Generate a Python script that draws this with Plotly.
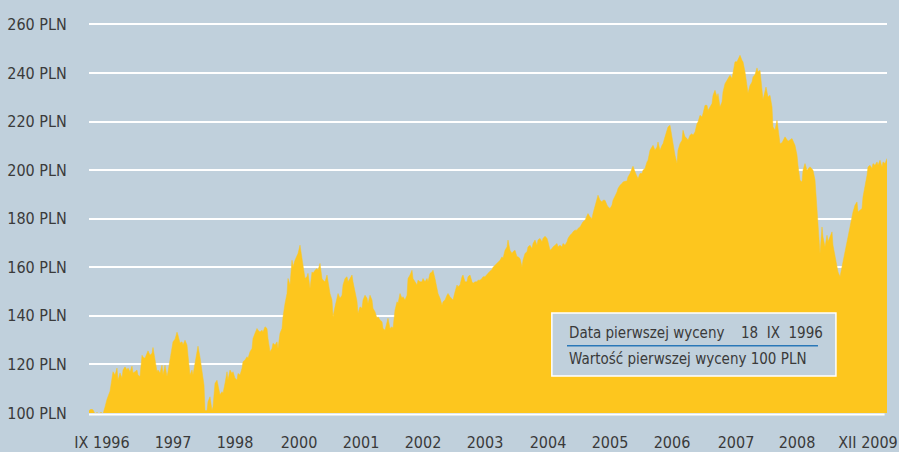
import plotly.graph_objects as go

# relative time index (sampling position along the period IX 1996 - XII 2009)
t = [89, 91, 93, 95, 97, 99, 101, 103, 105, 107, 110, 112, 113, 115, 117, 118, 120, 122, 123, 125,
     127, 128, 130, 132, 133, 135, 137, 138, 140, 142, 143, 145, 147, 148, 150, 152, 153, 155, 157, 158,
     160, 162, 163, 165, 167, 168, 170, 172, 173, 175, 177, 178, 180, 182, 183, 185, 187, 188, 190, 192,
     193, 195, 197, 198, 200, 202, 203, 204, 205, 207, 208, 210, 212, 213, 215, 217, 218, 220, 222, 223,
     225, 227, 228, 230, 232, 233, 235, 237, 238, 240, 242, 243, 245, 247, 248, 250, 252, 253, 255, 257,
     258, 260, 262, 263, 265, 267, 268, 270, 272, 273, 275, 277, 278, 280, 282, 283, 285, 287, 288, 290,
     292, 293, 295, 297, 298, 300, 302, 303, 305, 307, 308, 310, 312, 313, 315, 317, 318, 320, 322, 323,
     325, 327, 328, 330, 332, 333, 335, 337, 338, 340, 342, 343, 345, 347, 348, 350, 352, 353, 355, 357,
     358, 360, 362, 363, 365, 367, 368, 370, 372, 373, 375, 377, 378, 380, 382, 383, 385, 387, 388, 390,
     392, 393, 395, 397, 398, 400, 402, 403, 405, 407, 408, 410, 412, 413, 415, 417, 418, 420, 422, 423,
     425, 427, 428, 430, 432, 433, 435, 437, 438, 440, 442, 443, 445, 447, 448, 450, 452, 453, 455, 457,
     458, 460, 462, 463, 465, 467, 468, 470, 472, 473, 475, 477, 478, 480, 482, 483, 485, 487, 488, 490,
     492, 493, 497, 500, 502, 503, 505, 507, 508, 510, 512, 513, 515, 517, 518, 520, 522, 523, 525, 527,
     528, 530, 532, 533, 535, 537, 538, 540, 542, 543, 545, 547, 548, 550, 552, 553, 555, 557, 558, 560,
     562, 563, 565, 567, 568, 570, 572, 573, 575, 577, 578, 580, 582, 583, 585, 587, 588, 590, 592, 593,
     595, 597, 598, 600, 602, 603, 605, 607, 608, 610, 612, 613, 615, 617, 618, 620, 622, 623, 625, 627,
     628, 630, 632, 633, 635, 637, 638, 640, 642, 643, 645, 647, 648, 650, 652, 653, 655, 657, 658, 660,
     662, 663, 665, 667, 668, 670, 672, 673, 675, 677, 678, 680, 682, 683, 685, 687, 688, 690, 692, 693,
     695, 697, 698, 700, 702, 703, 705, 707, 708, 710, 712, 713, 715, 717, 718, 720, 722, 723, 725, 727,
     728, 730, 732, 733, 735, 737, 738, 740, 742, 743, 745, 747, 748, 750, 752, 753, 755, 757, 758, 760,
     762, 763, 766, 768, 770, 772, 773, 775, 777, 778, 780, 782, 785, 788, 792, 795, 797, 798, 800, 802,
     803, 805, 807, 810, 813, 815, 817, 818, 820, 822, 823, 825, 827, 828, 830, 832, 833, 835, 837, 838,
     840, 842, 843, 845, 847, 848, 850, 852, 853, 855, 857, 858, 860, 862, 863, 865, 867, 868, 870, 872,
     873, 875, 877, 878, 880, 882, 883, 885, 887]

wartosc = [101, 101.5, 101.3, 99.6, 100.2, 99.6, 100.3, 99.6, 102.5, 105.7, 109, 113.5, 117, 115.6, 118.5, 113.5, 116.5, 114.4, 117.7, 119,
           117.7, 118.5, 117, 119.3, 116.5, 117, 117.7, 115.6, 115, 123.8, 123, 122.5, 124.6, 125.6, 123.8, 124.6, 127, 121, 117, 117.7,
           116.5, 119.7, 115.6, 119.7, 115, 117, 122.5, 127.3, 129.3, 130.4, 133.3, 132, 128.8, 129.3, 128, 130, 128, 123.8, 115.6, 117.7,
           115.6, 120.5, 124.6, 127.5, 123, 117, 112.9, 111.5, 101, 101, 104.6, 106.7, 101, 102.6, 112.3, 113.5, 111.5, 107.5, 108.8, 108.1,
           112.2, 117, 113.6, 117.7, 116.3, 117, 114.3, 113.6, 116.3, 115.6, 118.4, 121.1, 121.8, 123.2, 122.5, 125.2, 126.6, 130.7, 132.8, 134.8,
           134.1, 133.4, 134.1, 133.4, 135.5, 134.8, 130.7, 125.2, 126.6, 128.7, 128, 129.3, 126.6, 132.8, 134.8, 139.6, 145.1, 149.2, 155.4, 152.7,
           162.9, 160.2, 162.9, 165, 165.7, 169.1, 164.3, 160.2, 155.4, 156.1, 157.5, 151.3, 158.1, 157.5, 158.8, 159.5, 158.8, 161.6, 155.4, 154.7,
           154, 156.8, 154, 149.2, 146.5, 139.6, 143.7, 147.2, 149.2, 147.2, 148.5, 152.7, 155.4, 156.1, 154, 155.4, 156.8, 154, 150.5, 146,
           141, 143.7, 143.1, 146.5, 148.5, 147.2, 145.1, 148.5, 146.5, 143.1, 141.7, 139, 139.6, 138.3, 137.6, 134.8, 134.1, 136.9, 139, 134.8,
           135.5, 134.8, 142.4, 145.8, 145.1, 149.2, 147.2, 147.9, 146.5, 148.5, 155.4, 156.8, 158.8, 155.4, 154, 152.7, 154.7, 154, 154, 155.4,
           154, 155.4, 154, 157.5, 158.1, 158.8, 155.4, 151.3, 149.2, 147.2, 144.4, 145.8, 146.5, 148.5, 149.2, 147.9, 147.2, 146.5, 149.9, 152.7,
           152, 152.7, 156.1, 156.8, 154, 154, 156.1, 156.8, 154, 153.4, 154, 154, 154.7, 154.7, 155.4, 156.1, 156.1, 156.8, 157.5, 158.4,
           159.1, 160, 161.6, 162.9, 164.3, 163.6, 167, 168.4, 171.2, 167, 165.7, 166.4, 167, 164.3, 164.3, 163.6, 160.2, 162.9, 165.7, 166.4,
           168.4, 169.1, 167.7, 169.8, 171.2, 169.1, 171.2, 171.9, 170.5, 171.9, 172.8, 171.9, 170.5, 167, 167.7, 168.4, 169.1, 169.8, 168.4, 169.1,
           168.4, 169.8, 169.1, 170.5, 171.9, 173.2, 173.9, 174.6, 175.3, 175.3, 176, 176.6, 178, 178.7, 179.4, 181.4, 182.1, 180.7, 180.1, 182.1,
           184.9, 188.3, 189.7, 187.6, 186.9, 187.6, 187.6, 185.6, 184.9, 184.2, 185.6, 187.6, 189, 191, 192.4, 193.8, 194.5, 195.1, 195.4, 195.5,
           197.2, 198.6, 200.7, 201.6, 199.3, 197.2, 196.5, 198.6, 198.6, 200, 200.7, 203.4, 204.1, 208.2, 209.5, 210.2, 208.2, 209.5, 211.6, 208.2,
           210.2, 210.9, 213.7, 216.4, 217.8, 218.5, 213.7, 209.5, 206.1, 202.7, 208.2, 210.9, 212.3, 216.4, 213.7, 213, 212.3, 214.4, 215, 214.4,
           215.7, 219.2, 219.8, 222.6, 221.9, 223.3, 226.7, 226.7, 224.6, 226, 227.4, 230.8, 232.9, 230.1, 231.5, 226, 228.1, 232.2, 235.6, 237,
           237.7, 239.1, 237.7, 240.5, 244.6, 244.6, 245.5, 247.3, 245.2, 244.6, 240.5, 233, 231.8, 234.9, 236.3, 238.4, 239.4, 242.1, 240.5, 241.1,
           232, 229, 234.2, 230.1, 230.8, 226, 217.8, 216.4, 220.5, 216.5, 210.9, 211.3, 213.7, 211.9, 213, 210.2, 206.2, 202, 195.8, 195.1,
           200, 202.7, 200, 201.4, 200, 196, 184.9, 178, 165.7, 176.6, 172.5, 168.4, 173.2, 170.5, 172.5, 174.6, 169.1, 164.3, 160.9, 158.1,
           156.1, 160.2, 162.9, 167, 171.2, 173.9, 176.6, 180.7, 182.8, 185.6, 186.9, 182.8, 183.5, 184.2, 189, 193.1, 197.9, 201.3, 202, 200.7,
           202.7, 202, 203.4, 202, 204.1, 201.3, 203.4, 202.7, 204.8]

y_ticks = [100, 120, 140, 160, 180, 200, 220, 240, 260]
y_labels = [f"{v} PLN" for v in y_ticks]
x_tick_pos = [102, 173, 235, 299, 361, 423, 485, 548, 610, 672, 736, 797, 868]
x_labels = ["IX 1996", "1997", "1998", "2000", "2001", "2002", "2003", "2004",
            "2005", "2006", "2007", "2008", "XII 2009"]

info_row1_left = "Data pierwszej wyceny"
info_row1_right = "18\u00a0\u00a0IX\u00a0\u00a01996"
info_row2 = "Wartość pierwszej wyceny 100 PLN"

BG = "#c0d0dc"
YELLOW = "#fdc61e"
TXT = "#3a3a3a"
FONT = "DejaVu Sans Condensed, Liberation Sans Narrow, Liberation Sans, sans-serif"

fig = go.Figure()
fig.add_trace(go.Scatter(
    x=t, y=wartosc, mode="lines", fill="tozeroy",
    line=dict(color=YELLOW, width=0.5), fillcolor=YELLOW,
    hoverinfo="skip", showlegend=False,
))

fig.update_layout(
    width=899, height=452,
    margin=dict(l=89, r=12, t=22, b=39, autoexpand=False),
    paper_bgcolor=BG, plot_bgcolor=BG,
    font=dict(family=FONT, size=16, color=TXT),
    showlegend=False,
    xaxis=dict(
        range=[min(t), max(t)], showgrid=False, zeroline=False, showline=False,
        automargin=False, ticklabeloverflow="allow",
        tickmode="array", tickvals=x_tick_pos, ticktext=x_labels,
        ticks="outside", ticklen=15, tickcolor="rgba(0,0,0,0)",
        tickfont=dict(family=FONT, size=16, color=TXT),
    ),
    yaxis=dict(
        range=[100, 261], showgrid=True, gridcolor="white", gridwidth=2,
        zeroline=False, showline=False,
        automargin=False, ticklabeloverflow="allow",
        tickmode="array", tickvals=y_ticks, ticktext=y_labels,
        ticks="outside", ticklen=18, tickcolor="rgba(0,0,0,0)",
        tickfont=dict(family=FONT, size=16, color=TXT),
    ),
)

# white baseline at 100 PLN
fig.add_shape(type="line", xref="paper", yref="paper", x0=0, x1=0.997, y0=-0.004, y1=-0.004,
              line=dict(color="white", width=2), layer="above")

# info box
fig.add_shape(type="rect", xref="paper", yref="paper", x0=0.580, x1=0.936, y0=0.0945, y1=0.2555,
              fillcolor=BG, line=dict(color="white", width=1.5), layer="above")
fig.add_shape(type="line", xref="paper", yref="paper", x0=0.599, x1=0.9135, y0=0.172, y1=0.172,
              line=dict(color="#2a78b8", width=1.5), layer="above")
fig.add_annotation(xref="paper", yref="paper", x=0.599, y=0.2044, text=info_row1_left,
                   showarrow=False, xanchor="left", yanchor="middle",
                   font=dict(family=FONT, size=15, color=TXT))
fig.add_annotation(xref="paper", yref="paper", x=0.9223, y=0.2044, text=info_row1_right,
                   showarrow=False, xanchor="right", yanchor="middle",
                   font=dict(family=FONT, size=15, color=TXT))
fig.add_annotation(xref="paper", yref="paper", x=0.599, y=0.138, text=info_row2,
                   showarrow=False, xanchor="left", yanchor="middle",
                   font=dict(family=FONT, size=15, color=TXT))

fig.write_html("out.html", config={"displayModeBar": False},
               post_script="document.body.style.margin='0';document.body.style.overflow='hidden';")
